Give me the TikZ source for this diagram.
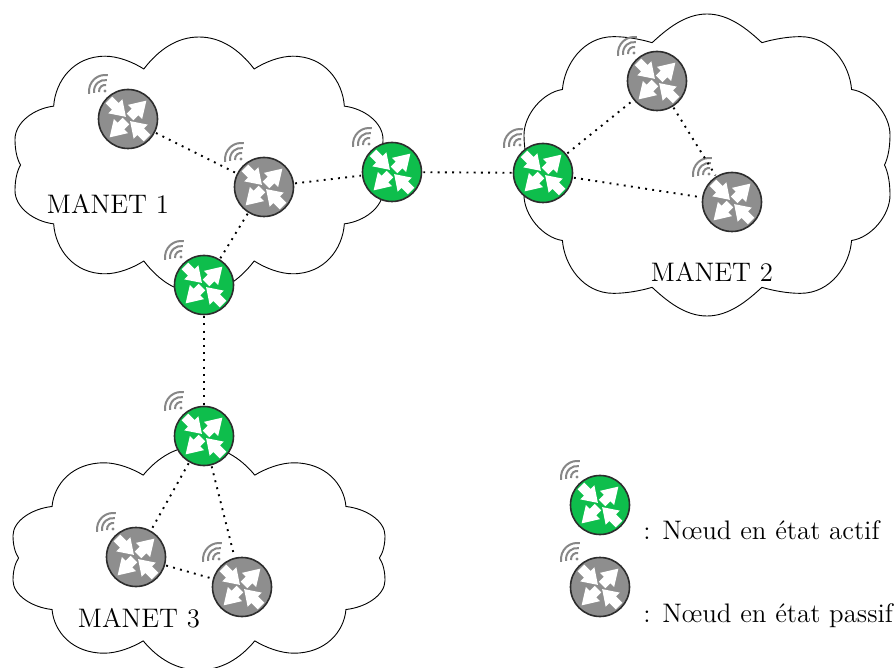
\documentclass[tikz,border=0pt]{standalone}
\tikzset{
  router/.style={circle,draw={rgb,255:red,45;green,45;blue,45},line width=0.8pt,minimum size=29.5pt,inner sep=0pt},
  routeron/.style={router,fill={rgb,255:red,14;green,190;blue,76}},
  routeroff/.style={router,fill={rgb,255:red,142;green,142;blue,142}},
  dots/.style={line width=0.95pt,dash pattern=on 0.95pt off 2.65pt,shorten >=0.5pt,shorten <=0.5pt},
  wifi/.style={draw={rgb,255:red,135;green,135;blue,135},line width=1pt},
  manet/.style={font=\fontsize{13.4}{15}\selectfont,inner sep=0pt},
  legend/.style={font=\fontsize{13.4}{15}\selectfont,anchor=base west,inner sep=0pt},
  pics/cloudline/.style 2 args={code={
    \draw [line width=0.45pt] (-.30,-#1) .. controls (-.22,-.90) and (-.12,-1) .. (0,-1)
      .. controls (.12,-1) and (.22,-.90) .. (.30,-#1)
      .. controls (.36,-#1-0.55*.85+0.55*#1) and (.44,-.85) .. (.51,-.85)
      .. controls (.68,-.85) and (.78,-.66) .. (.79,-#2)
      .. controls (.90,-#2+.02) and (1,-.33) .. (1,-.2)
      .. controls (1,-.12) and (.99,-.05) .. (.97,0)
      .. controls (.99,.05) and (1,.12) .. (1,.2)
      .. controls (1,.33) and (.90,#2-.02) .. (.79,#2)
      .. controls (.78,.66) and (.68,.85) .. (.51,.85)
      .. controls (.44,.85) and (.36,#1+0.55*.85-0.55*#1) .. (.30,#1)
      .. controls (.22,.90) and (.12,1) .. (0,1)
      .. controls (-.12,1) and (-.22,.90) .. (-.30,#1)
      .. controls (-.36,#1+0.55*.85-0.55*#1) and (-.44,.85) .. (-.51,.85)
      .. controls (-.68,.85) and (-.78,.66) .. (-.79,#2)
      .. controls (-.90,#2-.02) and (-1,.33) .. (-1,.2)
      .. controls (-1,.12) and (-.99,.05) .. (-.97,0)
      .. controls (-.99,-.05) and (-1,-.12) .. (-1,-.2)
      .. controls (-1,-.33) and (-.90,-#2+.02) .. (-.79,-#2)
      .. controls (-.78,-.66) and (-.68,-.85) .. (-.51,-.85)
      .. controls (-.44,-.85) and (-.36,-#1-0.55*.85+0.55*#1) .. (-.30,-#1) -- cycle ;
  }},
  routericon/.pic={
    \foreach \a in {45,-135} {
      \fill [white,rotate=\a] (3,-4.6) -- (10,-4.6) -- (10,-10) -- (26,0) -- (10,10) -- (10,4.6) -- (3,4.6) -- cycle ;
    }
    \foreach \a in {-45,135} {
      \fill [white,rotate=\a] (3,0) -- (18,-10) -- (18,-4.6) -- (27,-4.6) -- (27,4.6) -- (18,4.6) -- (18,10) -- cycle ;
    }
    \fill [fill={rgb,255:red,135;green,135;blue,135}] (-23,28) circle (1.6) ;
    \foreach \r in {6,11,16} {
      \draw [wifi] (-23,28) ++(190:\r) arc [start angle=190,end angle=80,radius=\r] ;
    }
  }
}
\begin{document}
\begin{tikzpicture}[x=0.5pt,y=0.5pt,yscale=-1,xscale=1]
\path [use as bounding box,clip] (0,0) rectangle (895,668);

%Clouds
\pic [xscale=184,yscale=128] at (199,165) {cloudline={.75}{.46}};
\pic [xscale=183,yscale=151] at (707,165) {cloudline={.81}{.50}};
\pic [xscale=186,yscale=112] at (199,558) {cloudline={.74}{.46}};

%Routers
\node [routeroff] (rta) at (128,119) {};
\node [routeroff] (rtb) at (264,187) {};
\node [routeron] (rtc) at (392,172) {};
\node [routeron] (rtd) at (204,285) {};
\node [routeron] (rte) at (543,173) {};
\node [routeroff] (rtf) at (657,81) {};
\node [routeroff] (rtg) at (732,202) {};
\node [routeron] (rth) at (204,436) {};
\node [routeroff] (rti) at (136,557) {};
\node [routeroff] (rtj) at (242,587) {};
\node [routeron] (keyon) at (600,505) {};
\node [routeroff] (keyoff) at (600,587) {};

%Router icons
\pic at (rta) {routericon};
\pic at (rtb) {routericon};
\pic at (rtc) {routericon};
\pic at (rtd) {routericon};
\pic at (rte) {routericon};
\pic at (rtf) {routericon};
\pic at (rtg) {routericon};
\pic at (rth) {routericon};
\pic at (rti) {routericon};
\pic at (rtj) {routericon};
\pic at (keyon) {routericon};
\pic at (keyoff) {routericon};

%Straight Lines
\draw [dots] (rta) -- (rtb);
\draw [dots] (rtb) -- (rtc);
\draw [dots] (rtb) -- (rtd);
\draw [dots] (rtc) -- (rte);
\draw [dots] (rte) -- (rtf);
\draw [dots] (rte) -- (rtg);
\draw [dots] (rtf) -- (rtg);
\draw [dots] (rtd) -- (rth);
\draw [dots] (rth) -- (rti);
\draw [dots] (rth) -- (rtj);
\draw [dots] (rti) -- (rtj);

% Text Node
\node [manet] (labela) at (108,204) {MANET 1};
% Text Node
\node [manet] (labelb) at (712,272) {MANET 2};
% Text Node
\node [manet] (labelc) at (139,618) {MANET 3};
% Text Node
\node [legend] (texton) at (643,539) {: Nœud en état actif};
% Text Node
\node [legend] (textoff) at (643,622) {: Nœud en état passif};

\end{tikzpicture}
\end{document}
